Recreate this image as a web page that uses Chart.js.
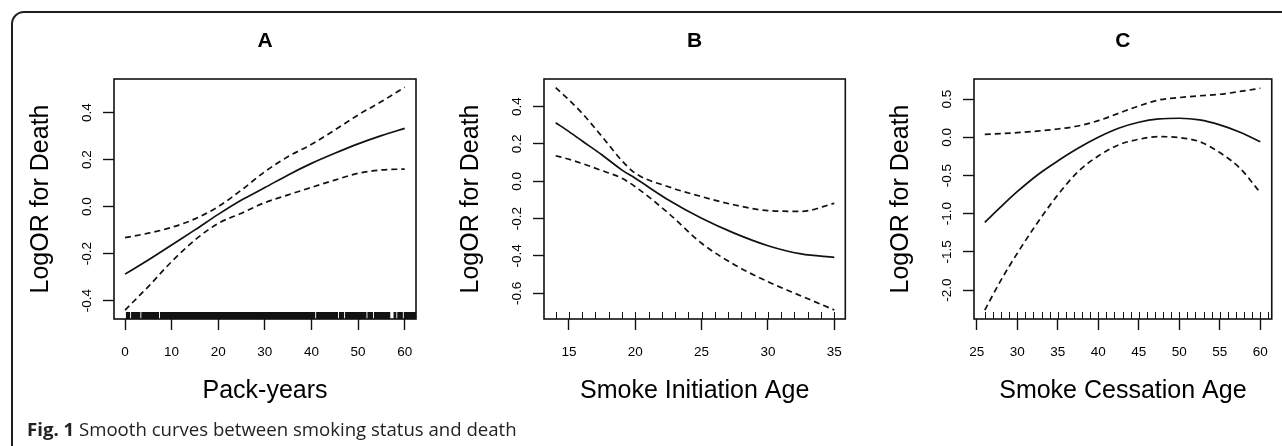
<!DOCTYPE html>
<html>
<head>
<meta charset="utf-8">
<script src="https://cdn.jsdelivr.net/npm/chart.js@4.4.1/dist/chart.umd.min.js"></script>
<style>
  html, body { margin: 0; padding: 0; width: 1282px; height: 446px; overflow: hidden; background: #fff; }
  #card { position: absolute; left: 11px; top: 11px; width: 1320px; height: 500px; border: 2px solid #1e1e1e; border-radius: 13px; box-sizing: border-box; }
  .panel { position: absolute; top: 0; height: 420px; }
  #caption { position: absolute; left: 27px; top: 417px; font-family: "Open Sans", "Noto Sans", sans-serif; font-size: 18.6px; line-height: 24px; color: #222; white-space: nowrap; }
  #caption b { font-weight: 700; }
</style>
</head>
<body>
<div id="card"></div>
<div class="panel" style="left:0px;width:430px;"><canvas id="cA" width="430" height="420"></canvas></div>
<div class="panel" style="left:430px;width:430px;"><canvas id="cB" width="430" height="420"></canvas></div>
<div class="panel" style="left:860px;width:422px;"><canvas id="cC" width="422" height="420"></canvas></div>
<div id="caption"><b>Fig. 1</b> Smooth curves between smoking status and death</div>
<script>
// ---------- Panel A: Pack-years ----------
const xA     = [0, 5, 10, 15, 20, 25, 30, 35, 40, 45, 50, 55, 60];
const fitA   = [-0.287, -0.227, -0.163, -0.099, -0.033, 0.028, 0.081, 0.135, 0.184, 0.227, 0.267, 0.302, 0.333];
const upperA = [-0.132, -0.113, -0.088, -0.052, 0.000, 0.071, 0.149, 0.213, 0.265, 0.326, 0.390, 0.447, 0.508];
const lowerA = [-0.440, -0.340, -0.234, -0.142, -0.071, -0.028, 0.017, 0.050, 0.082, 0.113, 0.142, 0.156, 0.160];
// rug: ranges of pack-years densely covered by observations
const rugRangesA = [[0.2, 1.1], [1.3, 3.3], [3.5, 7.3], [7.5, 40.8], [41.0, 45.7], [45.9, 47.0], [47.2, 51.8], [52.0, 53.2], [53.4, 56.9], [57.6, 58.2], [58.4, 59.6], [59.8, 62.4]];
const xTicksA = [0, 10, 20, 30, 40, 50, 60];
const yTicksA = [-0.4, -0.2, 0.0, 0.2, 0.4];

// ---------- Panel B: Smoke initiation age ----------
const xB     = [14, 15, 16, 17.5, 19, 20, 22.5, 25, 27.5, 30, 32.5, 35];
const fitB   = [0.314, 0.266, 0.216, 0.141, 0.060, 0.016, -0.100, -0.198, -0.279, -0.345, -0.389, -0.407];
const upperB = [0.502, 0.436, 0.364, 0.239, 0.110, 0.043, -0.029, -0.082, -0.127, -0.157, -0.161, -0.118];
const lowerB = [0.137, 0.118, 0.095, 0.057, 0.016, -0.029, -0.171, -0.332, -0.448, -0.538, -0.614, -0.689];
const rugB   = [14, 15, 16, 17, 18, 19, 20, 21, 22, 23, 24, 25, 26, 27, 28, 29, 30, 31, 32, 33, 34, 35];
const xTicksB = [15, 20, 25, 30, 35];
const yTicksB = [-0.6, -0.4, -0.2, 0.0, 0.2, 0.4];

// ---------- Panel C: Smoke cessation age ----------
const xC     = [26, 28, 30, 32.5, 35, 37.5, 40, 42.5, 45, 47.5, 50, 52.5, 55, 57.5, 60];
const fitC   = [-1.114, -0.908, -0.712, -0.493, -0.310, -0.144, 0.000, 0.118, 0.197, 0.240, 0.249, 0.227, 0.162, 0.066, -0.057];
const upperC = [0.039, 0.048, 0.061, 0.082, 0.109, 0.148, 0.218, 0.314, 0.410, 0.489, 0.520, 0.543, 0.563, 0.600, 0.642];
const lowerC = [-2.262, -1.869, -1.520, -1.118, -0.755, -0.450, -0.245, -0.100, -0.026, 0.009, -0.004, -0.057, -0.200, -0.406, -0.725];
const rugC   = [26, 27, 28, 29, 30, 31, 32, 33, 34, 35, 36, 37, 38, 39, 40, 41, 42, 43, 44, 45, 46, 47, 48, 49, 50, 51, 52, 53, 54, 55, 56, 57, 58, 59, 60, 61];
const xTicksC = [25, 30, 35, 40, 45, 50, 55, 60];
const yTicksC = [-2.0, -1.5, -1.0, -0.5, 0.0, 0.5];

const FONT = '"Liberation Sans", Arial, Helvetica, sans-serif';
const INK = '#111';

const boxPlugin = {
  id: 'plotBox',
  afterDatasetsDraw(chart) {
    const {ctx, chartArea: a} = chart;
    ctx.save();
    ctx.strokeStyle = INK;
    ctx.lineWidth = 1.6;
    ctx.strokeRect(a.left, a.top, a.right - a.left, a.bottom - a.top);
    ctx.restore();
  }
};

const panelTitlePlugin = {
  id: 'panelTitle',
  afterDraw(chart, args, opts) {
    const {ctx, chartArea: a} = chart;
    ctx.save();
    ctx.fillStyle = '#000';
    ctx.font = 'bold 21px ' + FONT;
    ctx.textAlign = 'center';
    ctx.textBaseline = 'alphabetic';
    ctx.fillText(opts.text, (a.left + a.right) / 2, 47);
    ctx.restore();
  }
};

const rugPlugin = {
  id: 'rug',
  afterDatasetsDraw(chart, args, opts) {
    const {ctx, chartArea: a} = chart;
    const xs = chart.scales.x;
    ctx.save();
    ctx.fillStyle = INK;
    ctx.strokeStyle = INK;
    ctx.lineWidth = 1;
    const h = 7;
    (opts.ranges || []).forEach(([s, e]) => {
      const p0 = xs.getPixelForValue(s), p1 = xs.getPixelForValue(e);
      ctx.fillRect(p0, a.bottom - h, Math.max(1, p1 - p0), h);
    });
    (opts.values || []).forEach(v => {
      const p = Math.round(xs.getPixelForValue(v)) + 0.5;
      ctx.beginPath();
      ctx.moveTo(p, a.bottom);
      ctx.lineTo(p, a.bottom - h);
      ctx.stroke();
    });
    ctx.restore();
  }
};

function pts(xs, ys) { return xs.map((x, i) => ({x: x, y: ys[i]})); }

function makeChart(id, cfg) {
  const ds = (data, dashed) => ({
    data: data,
    borderColor: INK,
    borderWidth: 1.7,
    borderDash: dashed ? [6, 4] : [],
    pointRadius: 0,
    fill: false,
    cubicInterpolationMode: 'monotone'
  });
  return new Chart(document.getElementById(id), {
    type: 'line',
    data: {
      datasets: [
        ds(pts(cfg.x, cfg.fit), false),
        ds(pts(cfg.x, cfg.upper), true),
        ds(pts(cfg.x, cfg.lower), true)
      ]
    },
    options: {
      responsive: false,
      animation: false,
      events: [],
      layout: { padding: { left: 0, right: cfg.padRight, top: 79, bottom: 0 } },
      plugins: {
        legend: { display: false },
        tooltip: { enabled: false },
        title: { display: false },
        panelTitle: { text: cfg.title },
        rug: { ranges: cfg.rugRanges || [], values: cfg.rugValues || [] }
      },
      scales: {
        x: {
          type: 'linear', position: 'bottom',
          min: cfg.xmin, max: cfg.xmax,
          afterBuildTicks: s => { s.ticks = cfg.xTicks.map(v => ({value: v})); },
          afterFit: s => { s.height = 420 - 319; },
          ticks: {
            autoSkip: false, maxRotation: 0, minRotation: 0, color: '#000',
            font: { family: FONT, size: 13.5 }, padding: 13.9,
            callback: v => String(v)
          },
          grid: { drawOnChartArea: false, drawTicks: true, tickLength: 11, tickColor: INK, tickWidth: 1.4 },
          border: { display: false },
          title: {
            display: true, text: cfg.xTitle, color: '#000',
            font: { family: FONT, size: 25, lineHeight: 1.2 },
            padding: { top: 0, bottom: 14 }
          }
        },
        y: {
          type: 'linear', position: 'left',
          min: cfg.ymin, max: cfg.ymax,
          afterBuildTicks: s => { s.ticks = cfg.yTicks.map(v => ({value: v})); },
          afterFit: s => { s.width = 114; },
          ticks: {
            autoSkip: false, minRotation: 90, maxRotation: 90, crossAlign: 'center', color: '#000',
            font: { family: FONT, size: 13.5 }, padding: 4.2,
            callback: v => Number(v).toFixed(1)
          },
          grid: { drawOnChartArea: false, drawTicks: true, tickLength: 11, tickColor: INK, tickWidth: 1.4 },
          border: { display: false },
          title: {
            display: true, text: 'LogOR for Death', color: '#000',
            font: { family: FONT, size: 25, lineHeight: 1.2 },
            padding: { top: 26, bottom: 0 }
          }
        }
      }
    },
    plugins: [boxPlugin, rugPlugin, panelTitlePlugin]
  });
}

makeChart('cA', {
  title: 'A', xTitle: 'Pack-years',
  x: xA, fit: fitA, upper: upperA, lower: lowerA,
  rugRanges: rugRangesA,
  xmin: -2.36, xmax: 62.42, ymin: -0.478, ymax: 0.543,
  xTicks: xTicksA, yTicks: yTicksA, padRight: 14
});
makeChart('cB', {
  title: 'B', xTitle: 'Smoke Initiation Age',
  x: xB, fit: fitB, upper: upperB, lower: lowerB,
  rugValues: rugB,
  xmin: 13.12, xmax: 35.83, ymin: -0.7376, ymax: 0.548,
  xTicks: xTicksB, yTicks: yTicksB, padRight: 14.7
});
makeChart('cC', {
  title: 'C', xTitle: 'Smoke Cessation Age',
  x: xC, fit: fitC, upper: upperC, lower: lowerC,
  rugValues: rugC,
  xmin: 24.67, xmax: 61.41, ymin: -2.378, ymax: 0.763,
  xTicks: xTicksC, yTicks: yTicksC, padRight: 6.7
});
</script>
</body>
</html>
